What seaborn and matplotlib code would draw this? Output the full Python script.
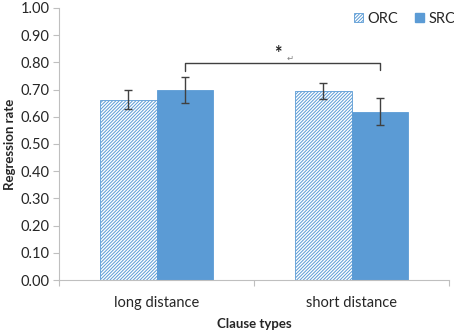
import numpy as np
import pandas as pd
import matplotlib
matplotlib.use("Agg")
import matplotlib.pyplot as plt
import matplotlib.patches as mpatches
import seaborn as sns

# 資料
clause_types = ["long distance", "short distance"]
groups = ["ORC", "SRC"]
orc_rate = [0.662, 0.696]
src_rate = [0.697, 0.619]
orc_err = [0.035, 0.030]
src_err = [0.048, 0.051]

sns.set_style("white")
plt.rcParams['font.family'] = ['Lato', 'DejaVu Sans']
plt.rcParams['hatch.linewidth'] = 0.7

blue = "#5B9BD5"
grey = "#BFBFBF"
hatch = "//////////"

df = pd.DataFrame({
    "Clause": clause_types * 2,
    "Group": ["ORC"] * 2 + ["SRC"] * 2,
    "Rate": orc_rate + src_rate,
})
errs = {"ORC": orc_err, "SRC": src_err}

fig = plt.figure(figsize=(4.54, 3.30), dpi=100)
ax = fig.add_axes([0.130, 0.1515, 0.859, 0.8243])

sns.barplot(data=df, x="Clause", y="Rate", hue="Group", hue_order=groups,
            palette=[blue, blue], width=0.575, errorbar=None, ax=ax,
            legend=False, saturation=1)

# ORC 斜線填色, 誤差線
for cont, g in zip(ax.containers, groups):
    xs = []
    for p in cont.patches:
        xs.append(p.get_x() + p.get_width() / 2)
        p.set_edgecolor(blue)
        p.set_linewidth(0.6)
        if g == "ORC":
            p.set_facecolor("white")
            p.set_hatch(hatch)
    vals = df[df["Group"] == g]["Rate"].values
    ax.errorbar(xs, vals, yerr=errs[g], fmt="none", ecolor="#404040",
                elinewidth=1, capsize=3, capthick=1, zorder=5)

# 顯著性括號
src_x = [p.get_x() + p.get_width() / 2 for p in ax.containers[1].patches]
ax.plot([src_x[0], src_x[0], src_x[1], src_x[1]], [0.768, 0.797, 0.797, 0.772],
        color="#404040", lw=1, solid_joinstyle="round")
ax.text((src_x[0] + src_x[1]) / 2 - 0.02, 0.80, "*", ha="center", va="bottom",
        fontsize=13, fontweight="bold", color="#202020")
ax.text((src_x[0] + src_x[1]) / 2 + 0.025, 0.797, "\u21b5", ha="left", va="bottom",
        fontsize=6, color="#808080", family=["DejaVu Sans"])

ax.set_ylim(0, 1.0)
ax.set_xlim(-0.5, 1.5)
ax.set_yticks(np.arange(0, 1.01, 0.1))
ax.set_yticklabels([f"{v:.2f}" for v in np.arange(0, 1.01, 0.1)], fontsize=10.5)
ax.tick_params(axis="y", left=True, length=4, color=grey, width=0.8, pad=3)
ax.tick_params(axis="x", bottom=False, labelsize=10.5, pad=8)
ax.set_xticks([-0.5, 0.5, 1.5], minor=True)
ax.tick_params(axis="x", which="minor", bottom=True, length=4, color=grey, width=0.8)

for s in ["top", "right"]:
    ax.spines[s].set_visible(False)
for s in ["left", "bottom"]:
    ax.spines[s].set_color(grey)
    ax.spines[s].set_linewidth(0.8)

ax.set_ylabel("Regression rate", fontsize=9.5, fontweight="bold", labelpad=3)
ax.set_xlabel("Clause types", fontsize=9.5, fontweight="bold", labelpad=6)

h1 = mpatches.Patch(facecolor="white", edgecolor=blue, hatch=hatch, linewidth=0.6, label="ORC")
h2 = mpatches.Patch(facecolor=blue, edgecolor=blue, label="SRC")
ax.legend(handles=[h1, h2], loc="upper right", bbox_to_anchor=(1.05, 1.035), ncol=2,
          frameon=False, fontsize=10.5, handlelength=0.6, handleheight=0.6,
          handletextpad=0.3, columnspacing=1.2)

fig.savefig("out.png", dpi=100)
